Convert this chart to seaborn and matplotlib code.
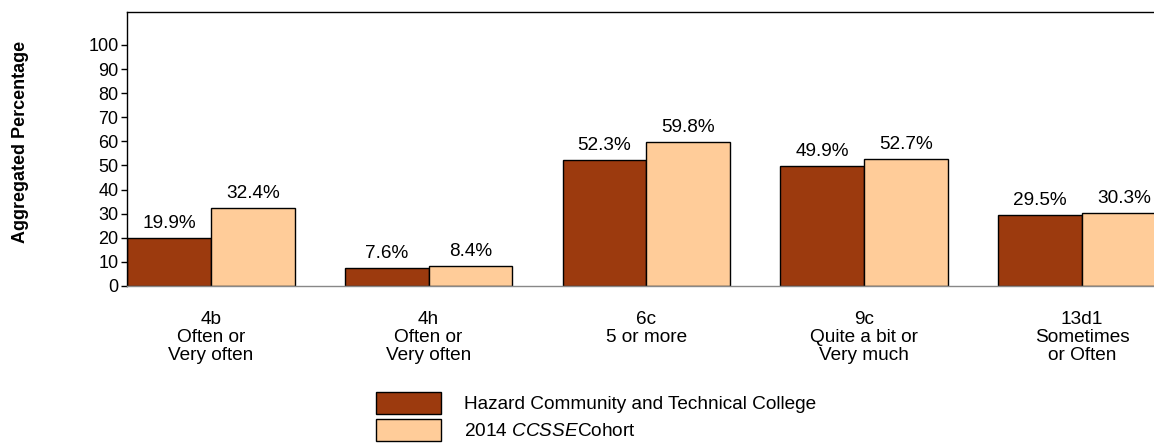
import seaborn as sns
import pandas as pd
import matplotlib.pyplot as plt
from matplotlib.patches import Patch

categories = ['4b\nOften or\nVery often', '4h\nOften or\nVery often', '6c\n5 or more',
              '9c\nQuite a bit or\nVery much', '13d1\nSometimes\nor Often']
college = [19.9, 7.6, 52.3, 49.9, 29.5]
cohort = [32.4, 8.4, 59.8, 52.7, 30.3]
series = ['Hazard Community and Technical College', '2014 $\\it{CCSSE}$Cohort']
colors = ['#9C3A0E', '#FFCC99']

df = pd.DataFrame({
    'Item': categories * 2,
    'Value': college + cohort,
    'Group': [series[0]] * len(categories) + [series[1]] * len(categories),
})

sns.set_style('white')
plt.rcParams['font.family'] = ['Liberation Sans', 'DejaVu Sans']
plt.rcParams['mathtext.fontset'] = 'custom'
plt.rcParams['mathtext.it'] = 'Liberation Sans:italic'
plt.rcParams['mathtext.rm'] = 'Liberation Sans'
plt.rcParams['text.color'] = 'black'
plt.rcParams['xtick.color'] = 'black'
plt.rcParams['ytick.color'] = 'black'
plt.rcParams['axes.labelcolor'] = 'black'

fig = plt.figure(figsize=(11.54, 4.44), dpi=100)
ax = fig.add_axes([0.110, 0.356, 0.89, 0.617])

sns.barplot(data=df, x='Item', y='Value', hue='Group', palette=colors, width=0.77,
            edgecolor='black', linewidth=1, saturation=1, legend=False, ax=ax)

for cont in ax.containers:
    ax.bar_label(cont, fmt='%.1f%%', padding=4, fontsize=13.7)

ax.set_ylim(0, 113.7)
ax.set_xlim(-0.385, 4.33)
ax.set_yticks(range(0, 101, 10))
ax.tick_params(axis='y', which='both', left=True, length=4, width=1, color='black', labelsize=13, pad=2)
ax.tick_params(axis='x', length=0, labelsize=13.7, pad=18)
for lab in ax.get_xticklabels():
    lab.set_linespacing(1.08)
ax.set_xlabel('')
ax.set_ylabel('Aggregated Percentage', fontsize=13, fontweight='bold')
ax.yaxis.set_label_coords(-0.095, 0.525)

ax.spines['left'].set_color('black')
ax.spines['top'].set_color('black')
ax.spines['bottom'].set_color('#888888')
ax.spines['right'].set_visible(False)
for s in ['left', 'top', 'bottom']:
    ax.spines[s].set_linewidth(1)

handles = [Patch(facecolor=c, edgecolor='black', linewidth=1) for c in colors]
fig.legend(handles, series, loc='upper left', bbox_to_anchor=(376 / 1154, 1 - 392 / 444),
           frameon=False, fontsize=13.7, handlelength=3.4, handleheight=1.4,
           labelspacing=0.25, handletextpad=1.24, borderpad=0, borderaxespad=0)

plt.savefig('out.png', dpi=100)
